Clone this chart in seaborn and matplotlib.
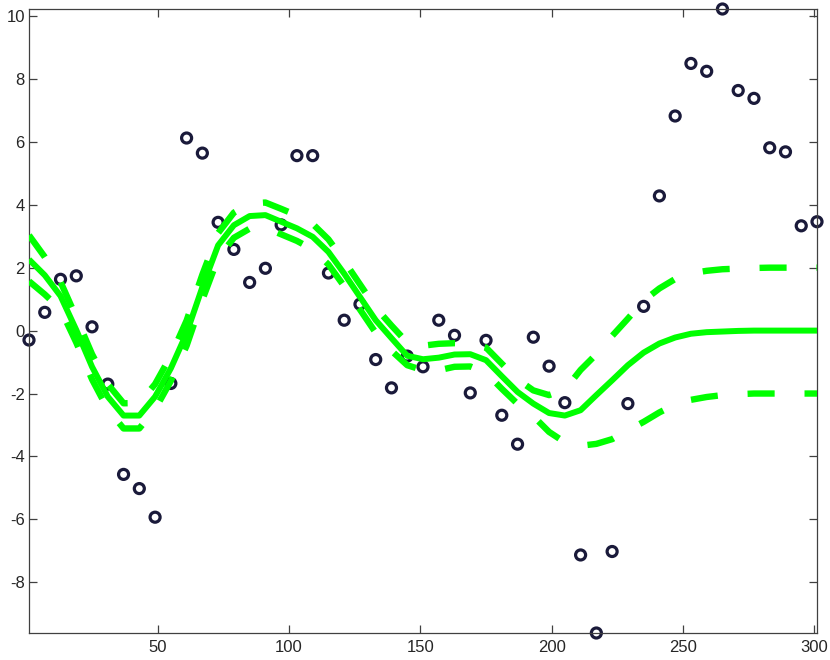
import numpy as np
import pandas as pd
import matplotlib
matplotlib.use("Agg")
import matplotlib.pyplot as plt
import seaborn as sns

# sample positions (every 6 units)
x_grid = [1, 7, 13, 19, 25, 31, 37, 43, 49, 55, 61, 67, 73, 79, 85, 91, 97,
          103, 109, 115, 121, 127, 133, 139, 145, 151, 157, 163, 169, 175, 181,
          187, 193, 199, 205, 211, 217, 223, 229, 235, 241, 247, 253, 259, 265,
          271, 277, 283, 289, 295, 301]

# observed points
y_obs = [-0.30, 0.58, 1.63, 1.74, 0.12, -1.70, -4.57, -5.02, -5.93, -1.68,
         6.12, 5.64, 3.44, 2.58, 1.53, 1.98, 3.36, 5.56, 5.56, 1.83,
         0.33, 0.84, -0.92, -1.82, -0.81, -1.15, 0.33, -0.15, -1.98, -0.31,
         -2.69, -3.61, -0.21, -1.13, -2.29, -7.13, -9.61, -7.02, -2.32, 0.77,
         4.28, 6.82, 8.49, 8.24, 10.22, 7.63, 7.38, 5.81, 5.68, 3.33, 3.46]

# posterior mean and bounds
y_mean = [2.26, 1.76, 1.10, 0.02, -1.15, -2.10, -2.70, -2.70, -2.10, -1.20,
          -0.08, 1.38, 2.71, 3.35, 3.64, 3.67, 3.46, 3.25, 2.98, 2.50,
          1.81, 1.07, 0.33, -0.24, -0.80, -0.91, -0.86, -0.76, -0.75, -0.94,
          -1.45, -1.95, -2.32, -2.62, -2.70, -2.53, -2.05, -1.58, -1.10, -0.70,
          -0.41, -0.22, -0.10, -0.05, -0.03, -0.01, 0.0, 0.0, 0.0, 0.0, 0.0]

y_upper = [3.03, 2.34, 1.55, 0.42, -0.75, -1.70, -2.31, -2.30, -1.70, -0.80,
           0.32, 1.78, 3.10, 3.75, 4.04, 4.07, 3.87, 3.66, 3.39, 2.90,
           2.21, 1.47, 0.73, 0.16, -0.38, -0.48, -0.42, -0.40, -0.42, -0.54,
           -1.05, -1.55, -1.90, -2.05, -1.88, -1.25, -0.75, -0.17, 0.38, 0.95,
           1.34, 1.64, 1.82, 1.90, 1.95, 1.97, 1.99, 2.0, 2.0, 2.0, 2.0]

y_lower = [1.57, 1.15, 0.68, -0.38, -1.55, -2.50, -3.11, -3.11, -2.50, -1.60,
           -0.48, 0.98, 2.31, 2.95, 3.24, 3.27, 3.06, 2.85, 2.58, 2.10,
           1.41, 0.67, -0.07, -0.64, -1.10, -1.26, -1.26, -1.15, -1.14, -1.34,
           -1.85, -2.33, -2.72, -3.22, -3.55, -3.66, -3.60, -3.45, -3.17, -2.90,
           -2.60, -2.35, -2.20, -2.11, -2.05, -2.02, -2.0, -2.0, -2.0, -2.0, -2.0]

x_ticks = [50, 100, 150, 200, 250, 300]
y_ticks = [-8, -6, -4, -2, 0, 2, 4, 6, 8, 10]

sns.set_style("ticks")
plt.rcParams['font.family'] = ['Liberation Sans', 'DejaVu Sans']
plt.rcParams['lines.scale_dashes'] = False
plt.rcParams['axes.unicode_minus'] = False

figure = plt.figure(figsize=(8.3, 6.6), dpi=100)
axes = figure.add_axes([29 / 830, 1 - 633 / 660, 788 / 830, 624 / 660])

green = '#00ff00'
dots = '#1a1a3a'

# data points first, curves on top
sns.scatterplot(x=x_grid, y=y_obs, ax=axes, marker='o', s=52,
                facecolors='none', edgecolor=dots, linewidth=2.3,
                clip_on=False, zorder=2)

sns.lineplot(x=x_grid, y=y_mean, ax=axes, color=green, linewidth=4.3,
             errorbar=None, sort=False, zorder=3)
for bound in (y_upper, y_lower):
    sns.lineplot(x=x_grid, y=bound, ax=axes, color=green, linewidth=4.6,
                 linestyle=(0, (19.5, 21.5)), errorbar=None, sort=False,
                 zorder=3)
for line in axes.get_lines():
    line.set_solid_capstyle('butt')
    line.set_dash_capstyle('butt')

axes.set_xlim(x_grid[0], x_grid[-1])
axes.set_ylim(min(y_obs), max(y_obs))
axes.set_xticks(x_ticks)
axes.set_yticks(y_ticks)
axes.set_xticklabels([str(t) for t in x_ticks])
axes.set_yticklabels([str(t) for t in y_ticks])

for side in ['top', 'right', 'bottom', 'left']:
    axes.spines[side].set_visible(True)
    axes.spines[side].set_color('#404040')
    axes.spines[side].set_linewidth(0.9)
axes.tick_params(direction='in', top=True, right=True, length=5.5,
                 width=0.9, color='#404040', labelsize=12,
                 labelcolor='#262626')
axes.tick_params(axis='y', pad=3)
axes.tick_params(axis='x', pad=5)

figure.savefig('out.png', dpi=100)
plt.close(figure)
